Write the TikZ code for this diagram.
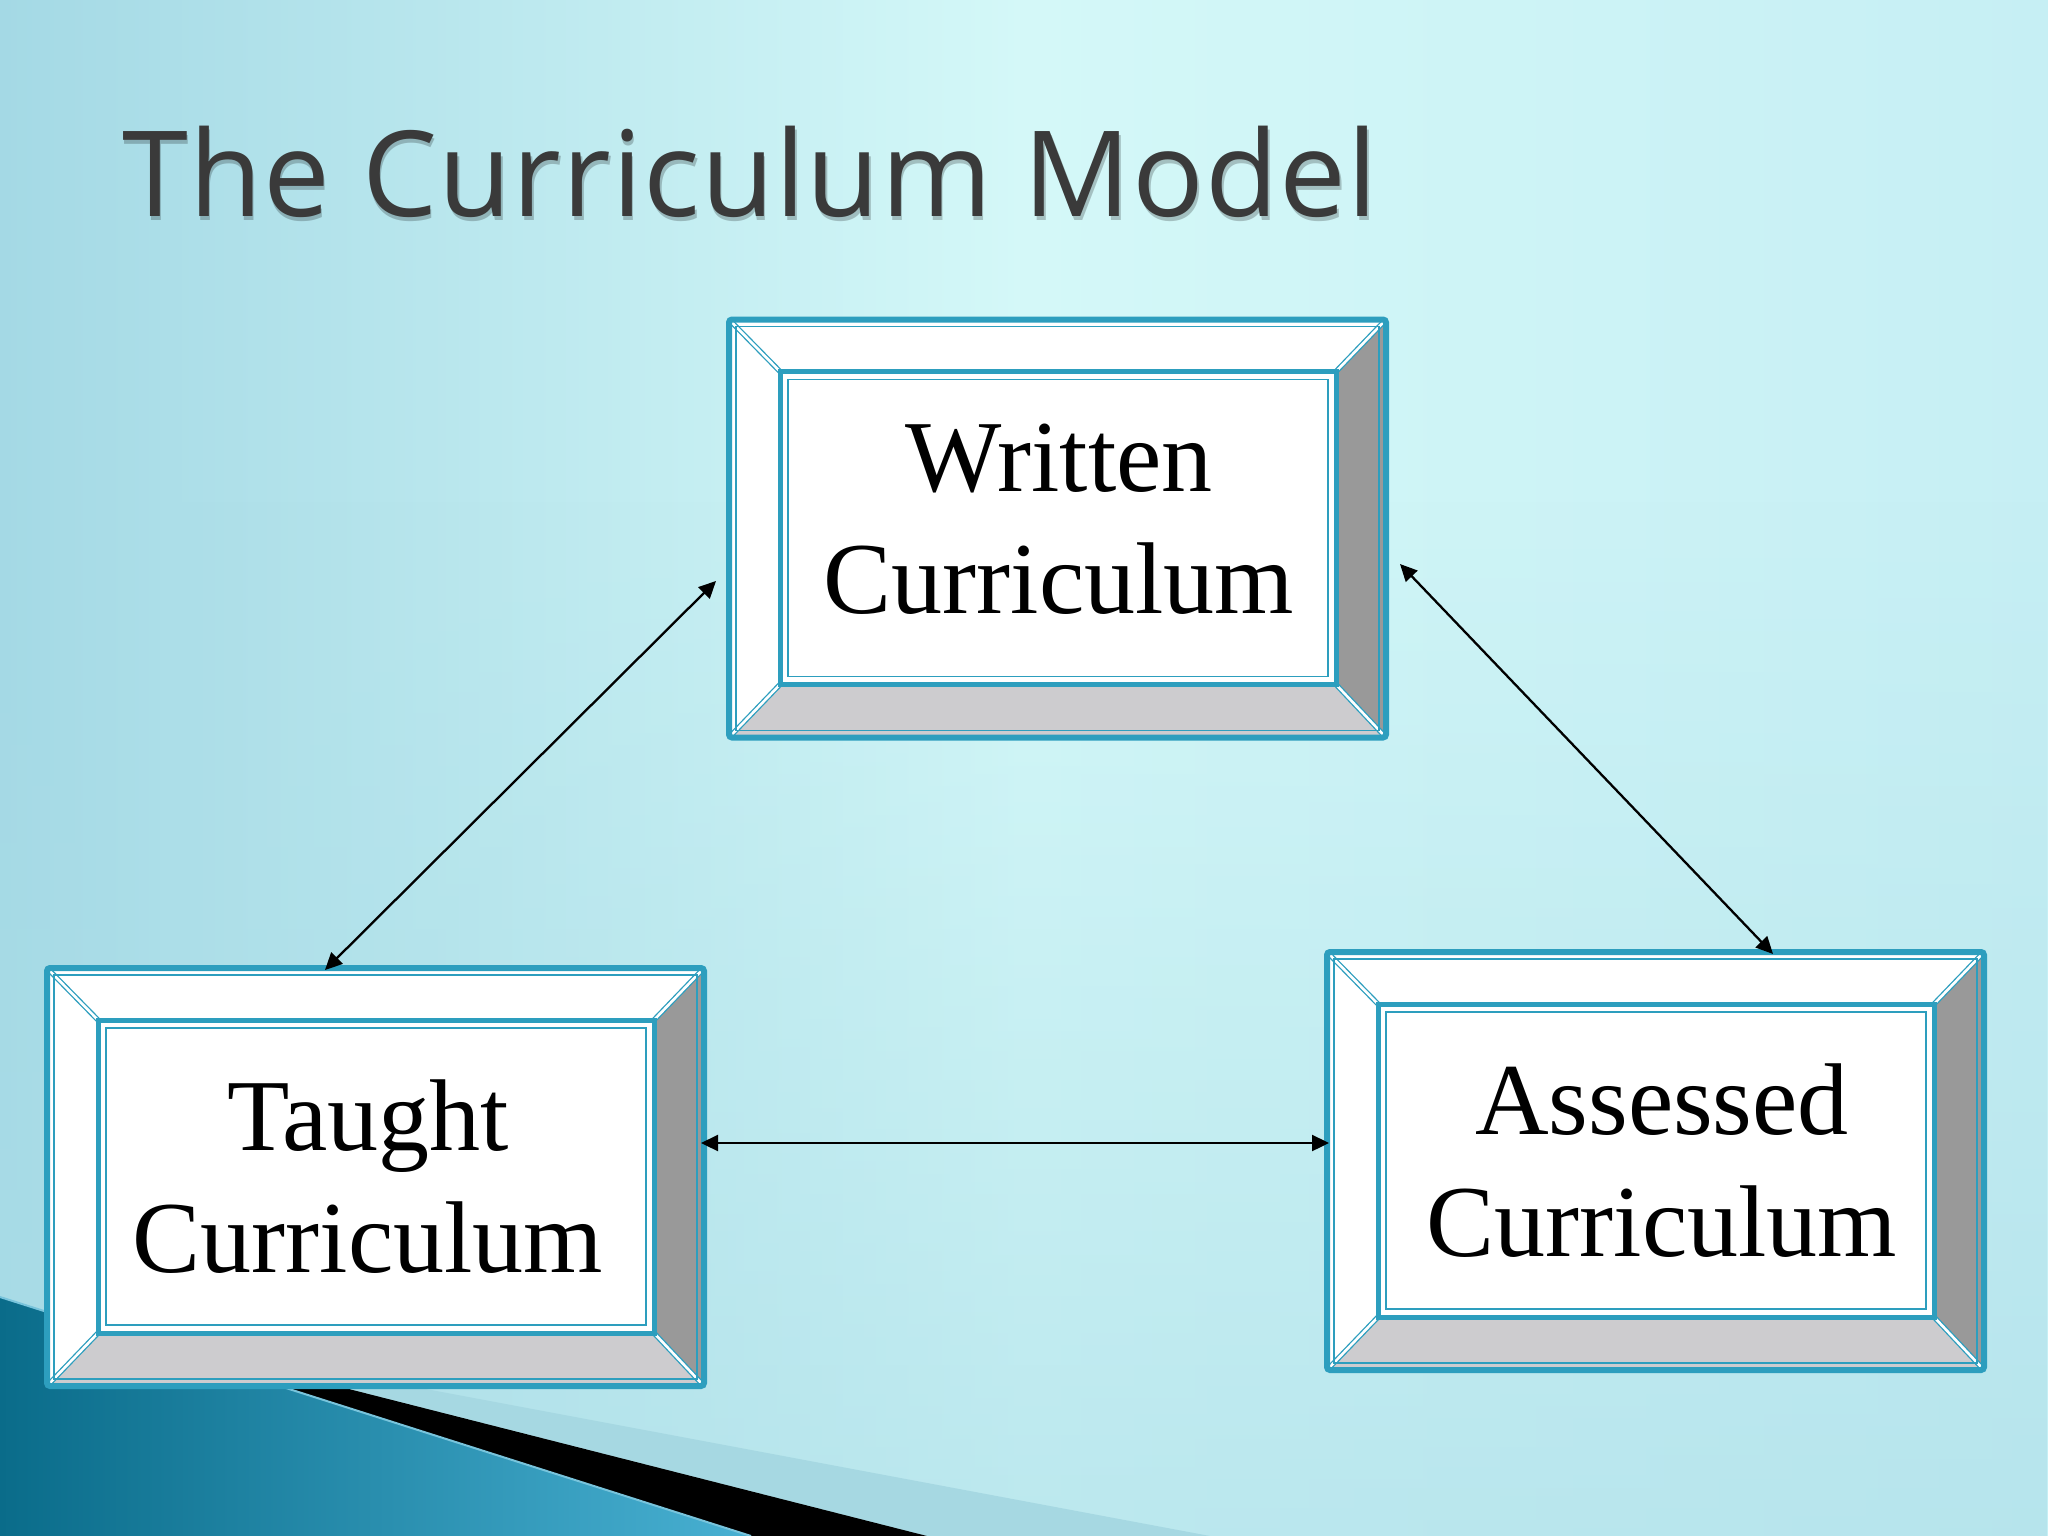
\documentclass[tikz,border=0pt]{standalone}
\usepackage{fontspec}
\setmainfont{Liberation Serif}
\newfontfamily\titlefont[LetterSpace=1.0]{Open Sans}
\newfontfamily\boxfont{Liberation Serif}
\usetikzlibrary{calc,arrows.meta,fadings}
\definecolor{tealline}{RGB}{45,158,190}
\definecolor{grayR}{RGB}{153,153,153}
\definecolor{grayB}{RGB}{205,204,207}
\definecolor{bgL}{RGB}{164,217,229}
\definecolor{bgM}{RGB}{212,248,248}
\definecolor{bgR}{RGB}{198,239,244}
\definecolor{bgD}{RGB}{172,222,232}
\definecolor{bandC}{RGB}{166,216,226}
\definecolor{blueL}{RGB}{10,108,138}
\definecolor{blueR}{RGB}{72,176,210}
\definecolor{titlegray}{RGB}{58,58,58}
\tikzset{
  boxnode/.style={minimum width=657pt,minimum height=418pt,inner sep=0pt,outer sep=0pt},
  boxtext/.style={font=\boxfont\fontsize{102}{122}\selectfont,align=center,inner sep=0pt},
  diagline/.style={draw=tealline,line width=1.3pt,double=white,double distance=2.6pt},
  thinline/.style={draw=tealline,line width=1.7pt},
  thickline/.style={draw=tealline,line width=5pt},
  outerline/.style={draw=tealline,line width=6pt,rounded corners=3pt},
  arr/.style={line width=2.3pt,{Triangle[length=17pt,width=16pt]}-{Triangle[length=17pt,width=16pt]}},
  titletext/.style={anchor=base west,font=\titlefont\fontsize{119}{140}\selectfont,inner sep=0pt}
}
\newcommand\bevdeco[1]{%
  \coordinate (#1onw) at (#1.north west);
  \coordinate (#1one) at (#1.north east);
  \coordinate (#1osw) at (#1.south west);
  \coordinate (#1ose) at (#1.south east);
  \coordinate (#1inw) at ($(#1.north west)+(51,52)$);
  \coordinate (#1ine) at ($(#1.north east)+(-50,52)$);
  \coordinate (#1isw) at ($(#1.south west)+(51,-53)$);
  \coordinate (#1ise) at ($(#1.south east)+(-50,-53)$);
  \fill[white] (#1onw) rectangle (#1ose);
  \fill[grayR] (#1one) -- (#1ose) -- (#1ise) -- (#1ine) -- cycle;
  \fill[grayB] (#1osw) -- (#1ose) -- (#1ise) -- (#1isw) -- cycle;
  \draw[diagline] (#1onw) -- (#1inw);
  \draw[diagline] (#1one) -- (#1ine);
  \draw[diagline] (#1osw) -- (#1isw);
  \draw[diagline] (#1ose) -- (#1ise);
  \draw[thinline] ($(#1onw)+(7,7)$) rectangle ($(#1ose)+(-7,-7)$);
  \draw[thickline] (#1inw) rectangle (#1ise);
  \draw[thinline] ($(#1inw)+(8,8)$) rectangle ($(#1ise)+(-8,-8)$);
  \draw[outerline] (#1onw) rectangle (#1ose);
}
\begin{document}
\begin{tikzpicture}[x=1pt,y=-1pt]
\useasboundingbox (0,0) rectangle (2048,1536);
% background
\shade[left color=bgL,right color=bgR,middle color=bgM] (0,0) rectangle (2048,1536);
\fill[bgD,path fading=north,opacity=0.6] (0,500) rectangle (2048,1536);
% bottom swoosh
\fill[bandC] (143,1336) -- (1210,1536) -- (927,1536) -- cycle;
\fill[black] (46,1312) -- (927,1536) -- (751,1536) -- cycle;
\shade[left color=blueL,right color=blueR] (0,1297) -- (751,1536) -- (0,1536) -- cycle;
\draw[draw={rgb,255:red,120;green,196;blue,220},line width=2pt] (0,1297) -- (751,1536);
% title
\node[titletext,text=black,opacity=0.22] at (123.5,220.5) {The Curriculum Model};
\node[titletext,text=titlegray] (title) at (122,216.5) {The Curriculum Model};
% boxes
\node[boxnode] (W) at (1057.5,528.5) {};
\node[boxnode] (T) at (375.5,1177) {};
\node[boxnode] (A) at (1655.5,1161) {};
\bevdeco{W}
\bevdeco{T}
\bevdeco{A}
\node[boxtext] (Wtxt) at (1059,519) {Written\\Curriculum};
\node[boxtext] (Ttxt) at (368,1177) {Taught\\Curriculum};
\node[boxtext] (Atxt) at (1662,1161) {Assessed\\Curriculum};
% connectors
\coordinate (WtoT) at ($(W.west)+(-13,52.5)$);
\coordinate (TfromW) at ($(T.north west)+(278,2)$);
\coordinate (WtoA) at ($(W.east)+(14,35.5)$);
\coordinate (AfromW) at ($(A.north west)+(446,2)$);
\coordinate (TtoA) at ($(T.east)+(-3,-34)$);
\coordinate (AfromT) at ($(A.west)+(2,-18)$);
\draw[arr] (WtoT) -- (TfromW);
\draw[arr] (WtoA) -- (AfromW);
\draw[arr] (TtoA) -- (AfromT);
\end{tikzpicture}
\end{document}
